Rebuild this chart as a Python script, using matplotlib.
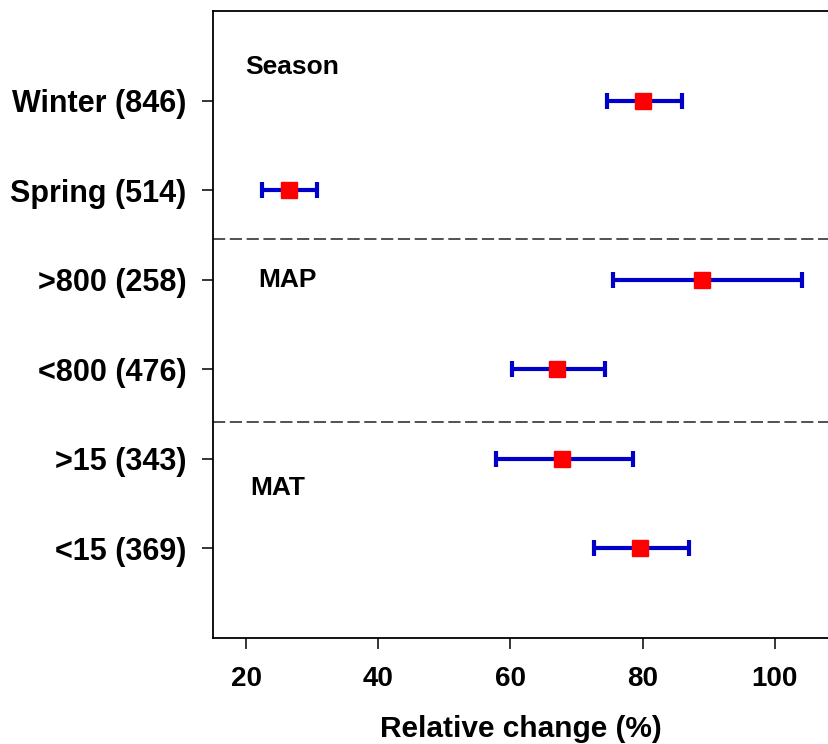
import numpy as np
import matplotlib
matplotlib.use("Agg")
import matplotlib.pyplot as plt

plt.rcParams["font.family"] = ["Liberation Sans", "DejaVu Sans"]
plt.rcParams["font.weight"] = "bold"

labels = ["Winter (846)", "Spring (514)", ">800 (258)", "<800 (476)", ">15 (343)", "<15 (369)"]
mean = [80.0, 26.5, 89.0, 67.0, 67.8, 79.6]
lower = [74.6, 22.4, 75.5, 60.3, 57.8, 72.6]
upper = [85.9, 30.8, 104.1, 74.3, 78.6, 87.0]
groups = ["Season", "MAP", "MAT"]
group_x = [19.9, 21.8, 20.6]
group_y = [0.63, 3.0, 5.33]
separators = [2.54, 4.59]

pos = np.arange(1, len(labels) + 1)
mean = np.array(mean)
err = [mean - np.array(lower), np.array(upper) - mean]

fig = plt.figure(figsize=(8.29, 7.44), dpi=100)
ax = fig.add_axes([213 / 829, 1 - 638 / 744, 616 / 829, 627 / 744])

ax.errorbar(mean, pos, xerr=err, fmt="none", ecolor="#0000C8",
            elinewidth=3, capsize=6, capthick=3, zorder=2)
ax.plot(mean, pos, "s", color="#FF0000", markersize=12, zorder=3)

for s in separators:
    ax.axhline(s, color="#222222", lw=1.1, ls=(0, (8, 3)), zorder=1)

for g, gx, gy in zip(groups, group_x, group_y):
    ax.text(gx, gy, g, fontsize=19, fontweight="bold", ha="left", va="center")

ax.set_xlim(15.0, 108.2)
ax.set_ylim(7.0, 0.0)
ax.set_xticks([20, 40, 60, 80, 100])
ax.set_yticks(pos)
ax.set_yticklabels(labels, fontsize=22, fontweight="bold")
ax.tick_params(axis="x", labelsize=20, length=8, width=1.1, pad=12)
ax.tick_params(axis="y", length=8, width=1.1, pad=11)
for lab in ax.get_xticklabels():
    lab.set_fontweight("bold")

ax.spines["right"].set_visible(False)
for sp in ["left", "top", "bottom"]:
    ax.spines[sp].set_linewidth(1.3)

ax.set_xlabel("Relative change (%)", fontsize=21.5, fontweight="bold", labelpad=17)

fig.savefig("out.png", dpi=100)
